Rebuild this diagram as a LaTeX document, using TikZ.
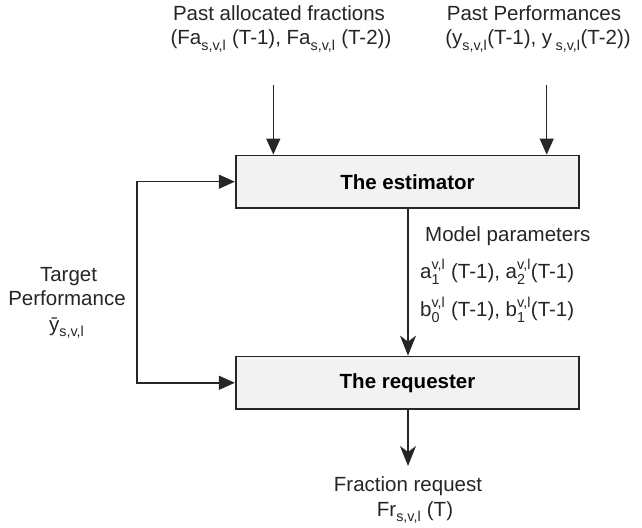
\documentclass[tikz,border=0pt]{standalone}
\usepackage{amsmath}
\usepackage{fontspec}
\setmainfont{Liberation Sans}
\usetikzlibrary{arrows.meta}
\newcommand\sbs[1]{\textsubscript{\raisebox{-0.15em}{#1}}}
\newcommand\spsb[2]{$^{\text{#1}}_{\text{#2}}$}
\tikzset{
  txt/.style={font=\fontsize{20.5}{24}\selectfont, inner sep=0pt, text=black!85},
  blockbox/.style={draw=black!85, line width=1.8pt, fill=black!5, minimum width=343.6pt, minimum height=52.5pt, font=\fontsize{20.5}{24}\selectfont\bfseries, inner sep=0pt},
  conn/.style={draw=black!85, line width=1.4pt},
  tri/.style={conn, -{Triangle[length=16pt,width=14pt]}},
  stl/.style={conn, -{Stealth[length=20pt,width=16pt,inset=6pt]}}
}
\begin{document}
\begin{tikzpicture}[x=1pt,y=-1pt]
\useasboundingbox (0,0) rectangle (642,527);
\fill[white] (0,0) rectangle (642,527);
% boxes
\node[blockbox] (est) at (407.5,181.7) {The estimator};
\node[blockbox] (req) at (407.5,382.8) {The requester};
% top labels
\node[txt, anchor=base] (fa1) at (279,21) {Past allocated fractions};
\node[txt, anchor=base] (fa2) at (281,45) {(Fa\sbs{s,v,l} (T-1), Fa\sbs{s,v,l} (T-2))};
\node[txt, anchor=base] (pp1) at (534,21) {Past Performances};
\node[txt, anchor=base] (pp2) at (538,45) {(y\sbs{s,v,l}(T-1), y\,\sbs{s,v,l}(T-2))};
\coordinate (fastart) at (273.3,85);
\coordinate (ppstart) at (546.7,85);
\draw[tri] (fastart) -- (fastart |- est.north);
\draw[tri] (ppstart) -- (ppstart |- est.north);
% model parameters
\node[txt, anchor=base west] (mp) at (425,241.7) {Model parameters};
\node[txt, anchor=base west] (ma) at (420,278) {a\spsb{v,l}{1} (T-1), a\spsb{v,l}{2}(T-1)};
\node[txt, anchor=base west] (mb) at (420,316.7) {b\spsb{v,l}{0} (T-1), b\spsb{v,l}{1}(T-1)};
\coordinate (mid) at (408,0);
\draw[stl] (mid |- est.south) -- (mid |- req.north);
% target
\node[txt, anchor=base] (t1) at (68.5,281.7) {Target};
\node[txt, anchor=base] (t2) at (67,305) {Performance};
\node[txt, anchor=base] (t3) at (66.7,331) {ȳ\sbs{s,v,l}};
\coordinate (fb) at (137,282);
\draw[tri] (fb) |- (est.west);
\draw[tri] (fb) |- (req.west);
% output
\coordinate (outend) at (408,466);
\draw[stl] (mid |- req.south) -- (outend);
\node[txt, anchor=base] (fr1) at (408,491.7) {Fraction request};
\node[txt, anchor=base] (fr2) at (415,516.7) {Fr\sbs{s,v,l} (T)};
\end{tikzpicture}
\end{document}
